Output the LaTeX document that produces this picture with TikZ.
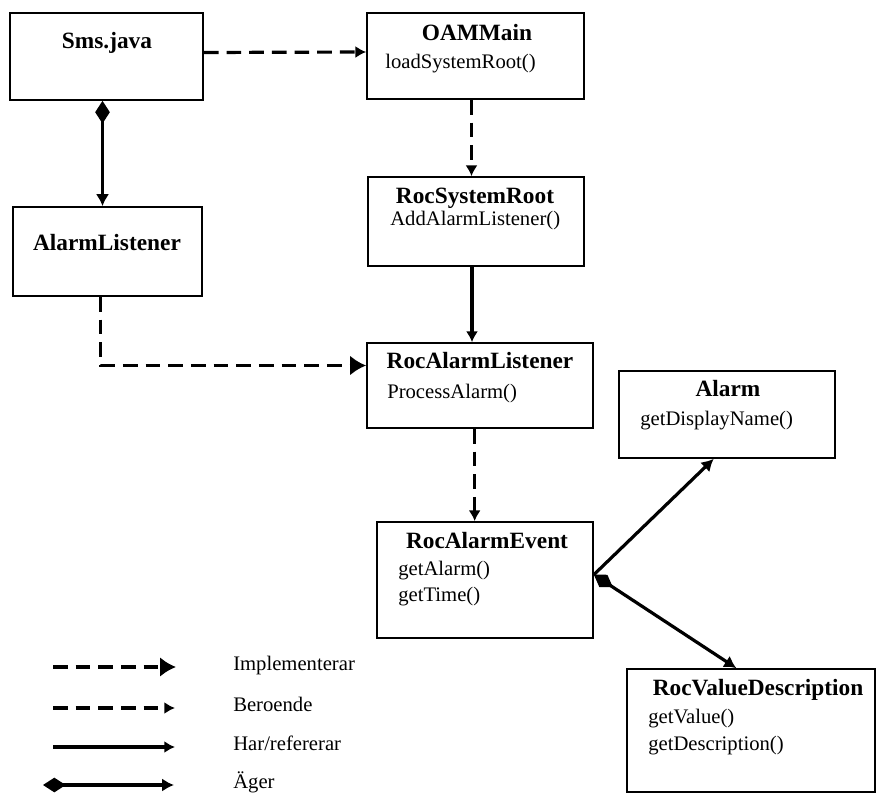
\documentclass[tikz,border=0pt]{standalone}
\usepackage{fontspec}
\setmainfont{Liberation Serif}
\usetikzlibrary{arrows.meta}
\begin{document}
\begin{tikzpicture}[x=0.75pt,y=-0.75pt,
  classbox/.style={draw=black,line width=1.3pt,minimum width=#1,inner sep=0pt},
  title/.style={font=\fontsize{17.5}{19}\selectfont\bfseries,anchor=mid,inner sep=0pt},
  method/.style={font=\fontsize{15.5}{17}\selectfont,anchor=mid west,inner sep=0pt},
  legendtext/.style={font=\fontsize{15.5}{17}\selectfont,anchor=mid west,inner sep=0pt},
  conn/.style={line width=2.4pt,line cap=butt},
  dashpat/.style={dash pattern=on 11pt off 6pt},
  beroende/.style={conn,dashpat,-{Latex[length=8pt,width=9pt]}},
  implementerar/.style={conn,dashpat,-{Latex[length=12pt,width=15pt]}},
  harref/.style={conn,-{Latex[length=8pt,width=9pt]}},
  ager/.style={conn,{Diamond[length=17pt,width=11pt]}-{Latex[length=9pt,width=10pt]}},
  agerplain/.style={conn,-{Latex[length=9pt,width=10pt]}}
]
\useasboundingbox (0,0) rectangle (877,795);

% class boxes
\node[classbox=193*0.75pt,minimum height=87*0.75pt] (sms) at (106.5,56.5) {};
\node[classbox=217*0.75pt,minimum height=86*0.75pt] (oam) at (475.5,56) {};
\node[classbox=216*0.75pt,minimum height=89*0.75pt] (rsr) at (476,221.5) {};
\node[classbox=189*0.75pt,minimum height=89*0.75pt] (al) at (107.5,251.5) {};
\node[classbox=226*0.75pt,minimum height=85*0.75pt] (ral) at (480,385.5) {};
\node[classbox=216*0.75pt,minimum height=87*0.75pt] (alarm) at (727,414.5) {};
\node[classbox=216*0.75pt,minimum height=116*0.75pt] (rae) at (485,580) {};
\node[classbox=248*0.75pt,minimum height=123*0.75pt] (rvd) at (751,730.5) {};

% class names and methods
\node[title] (smsT) at (107,45) {Sms.java};
\node[title] (oamT) at (477,37) {OAMMain};
\node[method] (oamM) at (385,65) {loadSystemRoot()};
\node[title] (rsrT) at (475,200) {RocSystemRoot};
\node[method] (rsrM) at (390,222) {AddAlarmListener()};
\node[title] (alT) at (107,247) {AlarmListener};
\node[title] (ralT) at (480,365) {RocAlarmListener};
\node[method] (ralM) at (387,395) {ProcessAlarm()};
\node[title] (alarmT) at (728,393) {Alarm};
\node[method] (alarmM) at (640,422) {getDisplayName()};
\node[title] (raeT) at (487,545) {RocAlarmEvent};
\node[method] (raeM1) at (398,572) {getAlarm()};
\node[method] (raeM2) at (398,598) {getTime()};
\node[title] (rvdT) at (758,692) {RocValueDescription};
\node[method] (rvdM1) at (648,720) {getValue()};
\node[method] (rvdM2) at (648,747) {getDescription()};

% connectors
\draw[beroende] ([yshift=3pt]sms.east) -- ([yshift=3pt]oam.west);
\draw[beroende] ([xshift=-3pt]oam.south) -- ([xshift=-3pt]oam.south |- rsr.north);
\draw[harref] ([xshift=-3pt]rsr.south) -- ([xshift=-3pt]rsr.south |- ral.north);
\draw[ager] ([xshift=-3pt]sms.south) -- ([xshift=-3pt]sms.south |- al.north);
\draw[implementerar] ([xshift=-5pt]al.south) |- ([yshift=15pt]ral.west);
\draw[beroende] ([xshift=-4pt]ral.south) -- ([xshift=-4pt]ral.south |- rae.north);
\draw[agerplain] ([yshift=4pt]rae.east) -- ([xshift=-10pt]alarm.south);
\draw[ager] ([yshift=4pt]rae.east) -- ([xshift=-11pt]rvd.north);

% legend
\coordinate (l1a) at (53,667);  \coordinate (l1b) at (176,667);
\coordinate (l2a) at (53,708);  \coordinate (l2b) at (175,708);
\coordinate (l3a) at (53,747);  \coordinate (l3b) at (175,747);
\coordinate (l4a) at (43,785);  \coordinate (l4b) at (174,785);
\draw[implementerar] (l1a) -- (l1b);
\draw[beroende] (l2a) -- (l2b);
\draw[harref] (l3a) -- (l3b);
\draw[ager] (l4a) -- (l4b);
\node[legendtext] (t1) at (233,667) {Implementerar};
\node[legendtext] (t2) at (233,708) {Beroende};
\node[legendtext] (t3) at (233,747) {Har/refererar};
\node[legendtext] (t4) at (233,785) {Äger};
\end{tikzpicture}
\end{document}
